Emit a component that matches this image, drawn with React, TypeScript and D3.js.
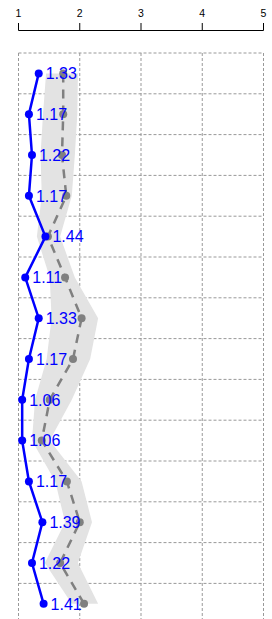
import React from "react";
import * as d3 from "d3";

// one row per observation, top to bottom
const rows = [1, 2, 3, 4, 5, 6, 7, 8, 9, 10, 11, 12, 13, 14];
const blueValues = [1.33, 1.17, 1.22, 1.17, 1.44, 1.11, 1.33, 1.17, 1.06, 1.06, 1.17, 1.39, 1.22, 1.41];
const greyValues = [1.73, 1.73, 1.71, 1.78, 1.48, 1.76, 2.03, 1.89, 1.51, 1.38, 1.79, 2.0, 1.68, 2.07];
const greyLower = [1.45, 1.4, 1.36, 1.38, 1.3, 1.51, 1.54, 1.46, 1.27, 1.22, 1.6, 1.76, 1.43, 1.87];
const greyUpper = [1.97, 1.96, 1.92, 1.87, 1.68, 1.92, 2.3, 2.17, 1.87, 1.51, 2.03, 2.2, 1.97, 2.3];
const xTicks = [1, 2, 3, 4, 5];

const W = 272;
const H = 619;

function App() {
  const x = d3.scaleLinear().domain([1, 5]).range([18.5, 263.5]);
  const y = d3.scaleBand<number>().domain(rows).range([53, 53 + 14 * 40.8]);
  const cy = (i: number) => (y(rows[i]) as number) + y.bandwidth() / 2;

  const ribbon = d3
    .area<number>()
    .y((_, i) => cy(i))
    .x0((_, i) => x(greyLower[i]))
    .x1((_, i) => x(greyUpper[i]));
  const greyLine = d3
    .line<number>()
    .x((d) => x(d))
    .y((_, i) => cy(i));
  const blueLine = d3
    .line<number>()
    .x((d) => x(d))
    .y((_, i) => cy(i));

  const gridYs = rows.map((r) => y(r) as number).concat([y.range()[1]]);

  return (
    <div style={{ position: "fixed", left: 0, top: 0, width: W, height: H, overflow: "hidden", background: "#fff" }}>
      <svg width={W} height={H} style={{ display: "block" }}>
        {/* top axis */}
        <line x1={x(1)} x2={x(5)} y1={30.5} y2={30.5} stroke="#000" strokeWidth={1} />
        {xTicks.map((t) => (
          <g key={t}>
            <line x1={x(t)} x2={x(t)} y1={23} y2={30.5} stroke="#000" strokeWidth={1} />
            <text x={x(t)} y={17} textAnchor="middle" fontSize={10.5} fontFamily="Liberation Sans, Arial, sans-serif" fill="#000">
              {t}
            </text>
          </g>
        ))}

        {/* grid */}
        {xTicks.map((t) => (
          <line key={"v" + t} x1={x(t)} x2={x(t)} y1={gridYs[0]} y2={H + 10} stroke="#999" strokeDasharray="3,2" strokeWidth={1} />
        ))}
        {gridYs.map((gy, i) => (
          <line key={"h" + i} x1={x(1)} x2={x(5)} y1={gy} y2={gy} stroke="#999" strokeDasharray="3,2" strokeWidth={1} />
        ))}

        {/* grey series with band */}
        <path d={ribbon(greyValues) || ""} fill="#e3e3e3" stroke="none" />
        <path d={greyLine(greyValues) || ""} fill="none" stroke="#808080" strokeWidth={2.5} strokeDasharray="9,7" />
        {greyValues.map((v, i) => (
          <circle key={"g" + i} cx={x(v)} cy={cy(i)} r={4} fill="#808080" />
        ))}

        {/* blue series */}
        <path d={blueLine(blueValues) || ""} fill="none" stroke="#0000ff" strokeWidth={2.5} />
        {blueValues.map((v, i) => (
          <circle key={"b" + i} cx={x(v)} cy={cy(i)} r={4} fill="#0000ff" />
        ))}
        {blueValues.map((v, i) => (
          <text
            key={"t" + i}
            x={x(v) + 7}
            y={cy(i) + 5.8}
            fontSize={16}
            fontFamily="Liberation Sans, Arial, sans-serif"
            fill="#0000ff"
          >
            {v.toFixed(2)}
          </text>
        ))}
      </svg>
    </div>
  );
}

export default App;
